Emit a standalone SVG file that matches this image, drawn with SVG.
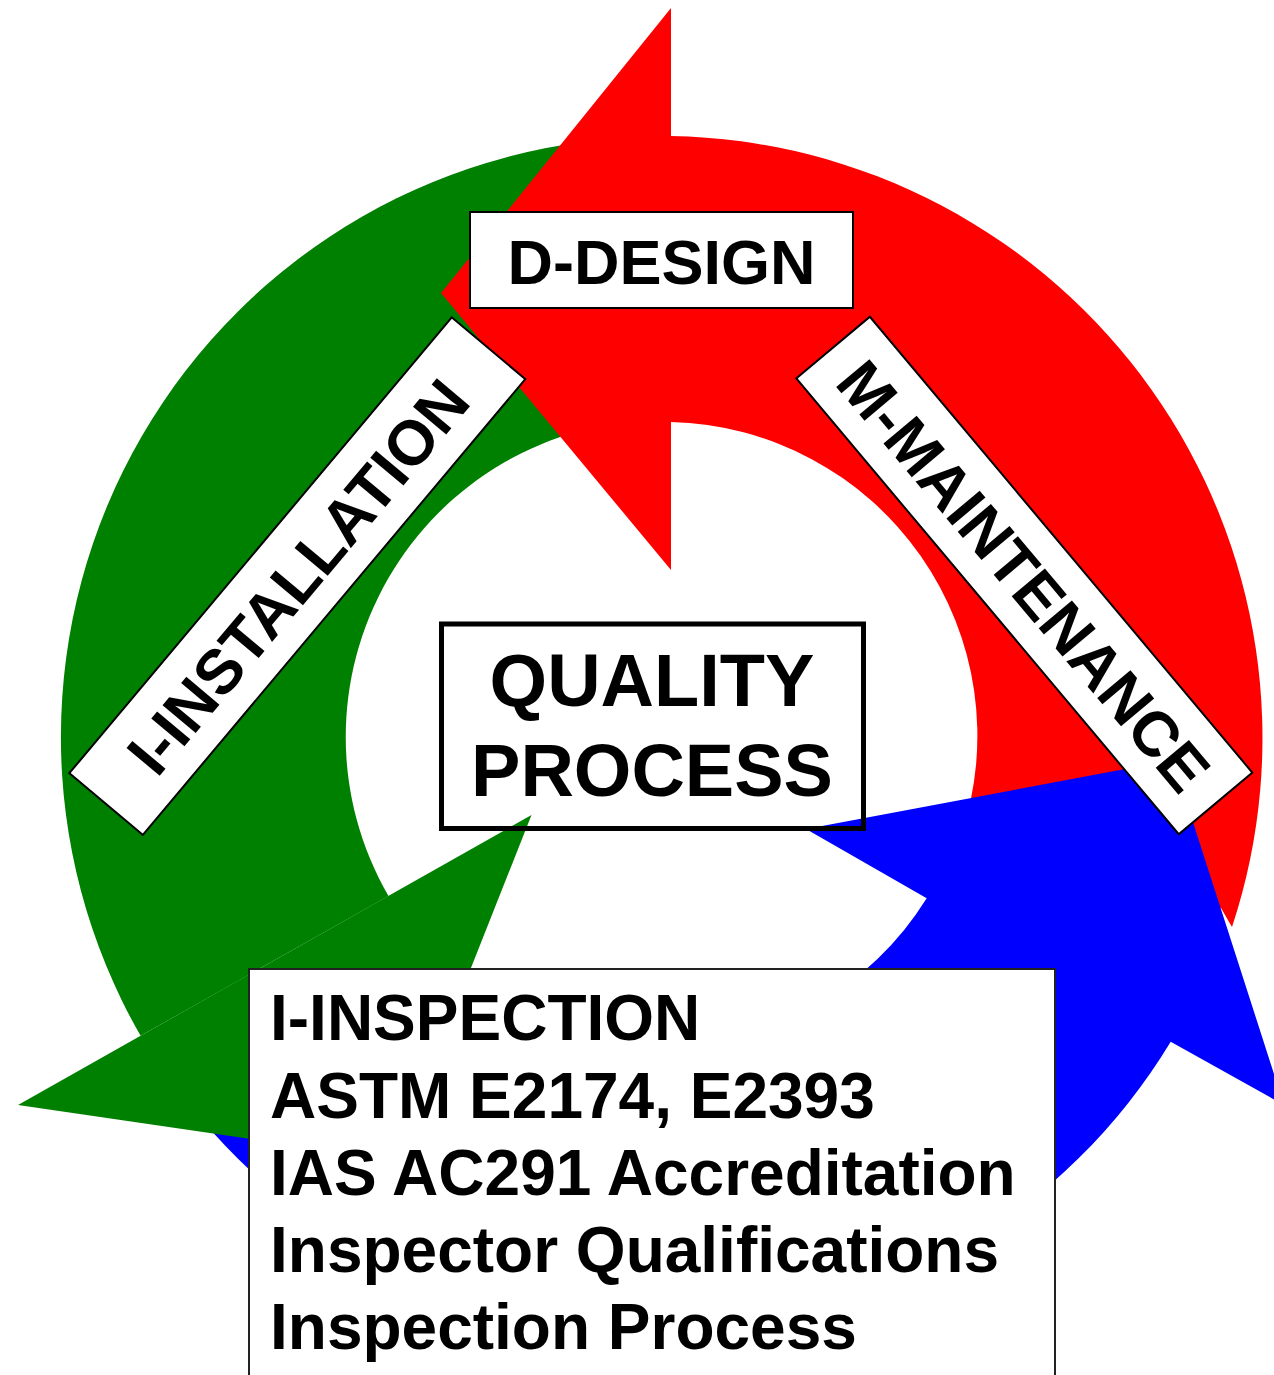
<svg xmlns="http://www.w3.org/2000/svg" width="1274" height="1375" viewBox="0 0 1274 1375">
  <style>
    .lbl { font-family: "Liberation Sans", Arial, sans-serif; font-weight: bold; fill: #000; }
    .box { fill: #fff; stroke: #000; stroke-width: 2; }
    .red { fill: #ff0000; }
    .green { fill: #008000; }
    .blue { fill: #0000ff; }
  </style>
  <rect x="0" y="0" width="1274" height="1375" fill="#fff"/>
  <g id="connectors">
    <path id="green-shaft" class="green" d="M140.6,1035.8 A600,600 0 0,1 662,137 L662,420 A317,317 0 0,0 388.5,896 Z"/>
    <path id="red-arrow" class="red" d="M671,8 L441,293 L671,570 L671,422 A314,314 0 0,1 961,836 L1221,908 L1232,927 A602,602 0 0,0 671,136 Z"/>
    <path id="blue-arrow" class="blue" d="M396.5,912.4 L166.3,1073.6 A599,599 0 0,0 1170.7,1041.7 L1284,1105 L1173,760 L806,829 L926.7,898.3 A318,318 0 0,1 396.5,912.4 Z"/>
    <polygon id="green-head" class="green" points="531.5,815 18,1105 395,1160"/>
  </g>
  <g id="node-design">
    <rect class="box" x="470" y="212" width="383" height="96"/>
    <text class="lbl" x="661.5" y="284" font-size="63" text-anchor="middle">D-DESIGN</text>
  </g>
  <g id="node-installation" transform="translate(297.3,576.2) rotate(-50)">
    <rect class="box" x="-297.5" y="-48" width="595" height="96"/>
    <text class="lbl" x="0" y="23" font-size="63" text-anchor="middle">I-INSTALLATION</text>
  </g>
  <g id="node-maintenance" transform="translate(1024.3,575.5) rotate(50)">
    <rect class="box" x="-297.5" y="-48" width="595" height="96"/>
    <text class="lbl" x="0" y="23" font-size="63" text-anchor="middle">M-MAINTENANCE</text>
  </g>
  <g id="node-quality">
    <rect x="441.5" y="624" width="422" height="204.5" fill="none" stroke="#000" stroke-width="5"/>
    <text class="lbl" x="652" y="706" font-size="74" text-anchor="middle">QUALITY</text>
    <text class="lbl" x="652" y="796" font-size="74" text-anchor="middle">PROCESS</text>
  </g>
  <g id="node-inspection">
    <rect x="249" y="969" width="806" height="430" fill="#fff" stroke="#222" stroke-width="2"/>
    <text class="lbl" font-size="64">
      <tspan x="270" y="1040">I-INSPECTION</tspan>
      <tspan x="270" y="1118">ASTM E2174, E2393</tspan>
      <tspan x="270" y="1195">IAS AC291 Accreditation</tspan>
      <tspan x="270" y="1272">Inspector Qualifications</tspan>
      <tspan x="270" y="1349">Inspection Process</tspan>
    </text>
  </g>
</svg>
